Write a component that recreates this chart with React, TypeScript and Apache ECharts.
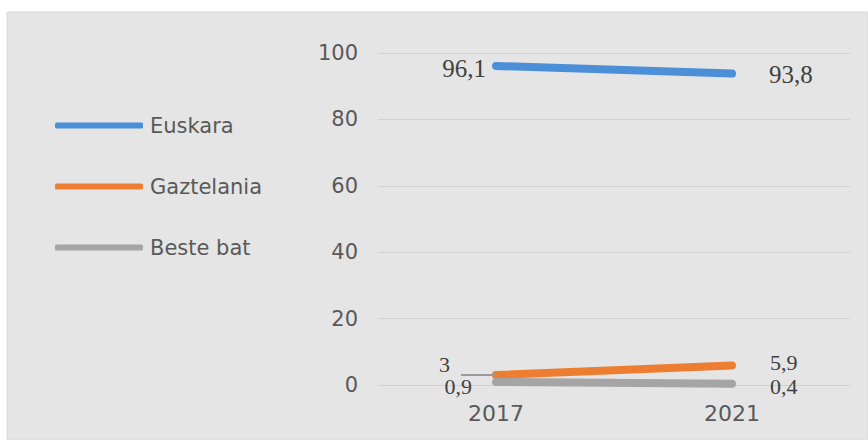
import React, { useEffect, useRef } from "react";
import * as echarts from "echarts";

const years = ["2017", "2021"];
const euskara = [96.1, 93.8];
const gaztelania = [3, 5.9];
const beste = [0.9, 0.4];
const seriesNames = ["Euskara", "Gaztelania", "Beste bat"];
const colors = ["#4a8fd8", "#ed7d31", "#a5a5a5"];

const fmt = (v: number) => String(v).replace(".", ",");

export default function App() {
  const ref = useRef<HTMLDivElement>(null);
  useEffect(() => {
    if (!ref.current) return;
    const chart = echarts.init(ref.current, null, { renderer: "svg" });
    const labelFont = {
      fontFamily: "Liberation Serif",
      fontSize: 25,
      color: "#404040",
      formatter: (p: any) => fmt(p.value),
    };
    const mk = (vals: number[], cfg: any[], extra: any[] = []) =>
      vals.map((v, i) => ({
        value: v,
        label: { show: true, ...labelFont, ...cfg[i] },
        ...(extra[i] || {}),
      }));
    const common = {
      type: "line",
      showSymbol: true,
      symbol: "circle",
      symbolSize: 0.1,
      lineStyle: { width: 8, cap: "round" },
    };
    const sans = "DejaVu Sans";
    chart.setOption({
      animation: false,
      backgroundColor: "#ffffff",
      graphic: [
        {
          type: "rect",
          z: -10,
          shape: { x: 7, y: 12, width: 861, height: 428 },
          style: { fill: "#e5e5e5", stroke: "#dadada", lineWidth: 1 },
          silent: true,
        },
      ],
      grid: { left: 378, right: 18, top: 53, bottom: 55, containLabel: false },
      legend: {
        orient: "vertical",
        left: 50,
        top: 110,
        itemWidth: 88,
        itemHeight: 6,
        itemGap: 40,
        icon: "roundRect",
        textStyle: { fontFamily: sans, fontSize: 21, color: "#595959", padding: [0, 0, 0, 2] },
        data: seriesNames,
      },
      xAxis: {
        type: "category",
        data: years,
        boundaryGap: true,
        axisLine: { show: true, lineStyle: { color: "#d0d0d0" } },
        axisTick: { show: false },
        axisLabel: { fontFamily: sans, fontSize: 22, color: "#595959", margin: 17 },
      },
      yAxis: {
        type: "value",
        min: 0,
        max: 100,
        interval: 20,
        axisLine: { show: false },
        axisTick: { show: false },
        splitLine: { lineStyle: { color: "#d2d2d2", width: 1 } },
        axisLabel: { fontFamily: sans, fontSize: 21, color: "#595959", margin: 20 },
      },
      series: [
        {
          ...common,
          name: seriesNames[0],
          color: colors[0],
          data: mk(euskara, [
            { position: "left", distance: 10, offset: [0, 3] },
            { position: "right", distance: 37, offset: [0, 1] },
          ]),
        },
        {
          ...common,
          name: seriesNames[1],
          color: colors[1],
          data: mk(
            gaztelania,
            [
              { position: "left", distance: 46, offset: [0, -11], fontSize: 22 },
              { position: "right", distance: 38, offset: [0, -3], fontSize: 22 },
            ],
            [{ labelLine: { show: true, lineStyle: { color: "#9a9a9a", width: 2 } } }]
          ),
        },
        {
          ...common,
          name: seriesNames[2],
          color: colors[2],
          data: mk(beste, [
            { position: "left", distance: 24, offset: [0, 4], fontSize: 22 },
            { position: "right", distance: 38, offset: [0, 3], fontSize: 22 },
          ]),
        },
      ],
    });
    return () => chart.dispose();
  }, []);
  return (
    <div
      ref={ref}
      style={{ position: "fixed", left: 0, top: 0, width: 868, height: 440 }}
    />
  );
}
